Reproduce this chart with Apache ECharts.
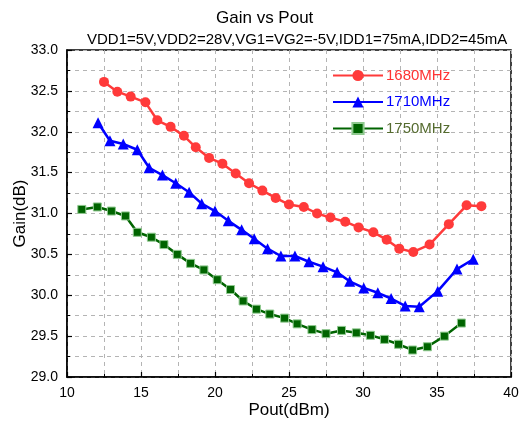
<!DOCTYPE html>
<html><head><meta charset="utf-8">
<script src="https://cdn.jsdelivr.net/npm/echarts@6/dist/echarts.min.js"></script>
<style>html,body{margin:0;padding:0;background:#fff}#c{width:521px;height:421px}</style>
</head><body><div id="c"></div>
<script>
const titleText = "Gain vs Pout";
const subText = "VDD1=5V,VDD2=28V,VG1=VG2=-5V,IDD1=75mA,IDD2=45mA";
const seriesNames = ["1680MHz", "1710MHz", "1750MHz"];
const x1680 = [12.5,13.4,14.3,15.3,16.1,17.0,17.9,18.7,19.6,20.5,21.4,22.3,23.2,24.1,25.0,26.0,26.9,27.8,28.8,29.7,30.7,31.6,32.45,33.4,34.5,35.8,37.0,38.0];
const y1680 = [32.61,32.49,32.43,32.36,32.14,32.06,31.95,31.81,31.68,31.61,31.49,31.37,31.28,31.19,31.11,31.08,31.00,30.95,30.90,30.83,30.77,30.68,30.57,30.53,30.62,30.87,31.10,31.09];
const x1710 = [12.1,12.9,13.8,14.75,15.55,16.45,17.35,18.25,19.1,20.0,20.9,21.8,22.65,23.55,24.45,25.4,26.35,27.3,28.25,29.1,30.05,31.0,31.9,32.85,33.8,35.05,36.35,37.45];
const y1710 = [32.11,31.89,31.85,31.78,31.56,31.47,31.37,31.26,31.12,31.03,30.91,30.80,30.69,30.57,30.48,30.48,30.41,30.35,30.28,30.17,30.09,30.03,29.96,29.87,29.86,30.05,30.32,30.44];
const x1750 = [11.0,12.05,13.0,13.95,14.75,15.7,16.55,17.45,18.35,19.25,20.15,21.05,21.9,22.8,23.7,24.7,25.55,26.55,27.5,28.55,29.55,30.5,31.45,32.4,33.35,34.35,35.5,36.65];
const y1750 = [31.05,31.08,31.03,30.97,30.77,30.71,30.62,30.50,30.39,30.31,30.19,30.07,29.93,29.83,29.77,29.72,29.65,29.58,29.53,29.57,29.54,29.51,29.46,29.40,29.33,29.37,29.50,29.66];

const pairs = (xs, ys) => xs.map((x, i) => [x, ys[i]]);
const chart = echarts.init(document.getElementById('c'), null, {renderer: 'canvas'});
const font = 'Liberation Sans, Arial, sans-serif';
const axisCommon = {
  axisLine: {show: true, lineStyle: {color: '#000', width: 1.5}},
  axisTick: {show: true, inside: true, length: 5, lineStyle: {color: '#000', width: 1.2}},
  minorTick: {show: true, splitNumber: 2, length: 3, lineStyle: {color: '#000', width: 1}},
  splitLine: {show: true, lineStyle: {color: '#b4b4b4', type: [4, 4], width: 1}},
  minorSplitLine: {show: true, lineStyle: {color: '#b4b4b4', type: [4, 4], width: 1}},
  axisLabel: {color: '#000', fontSize: 14, fontFamily: font},
  nameTextStyle: {color: '#000', fontSize: 17, fontFamily: font},
  nameMoveOverlap: false
};
chart.setOption({
  animation: false,
  backgroundColor: '#fff',
  title: [
    {text: titleText, left: 216, top: 10, padding: 0, textStyle: {fontSize: 17, fontWeight: 'normal', color: '#000', fontFamily: font}},
    {text: subText, left: 87, top: 32, padding: 0, textStyle: {fontSize: 15, fontWeight: 'normal', color: '#000', fontFamily: font}}
  ],
  grid: {left: 67, right: 10, top: 50, bottom: 44, outerBoundsMode: 'none', containLabel: false, show: true, borderColor: '#000', borderWidth: 1.5, backgroundColor: 'transparent'},
  legend: {
    orient: 'vertical', left: 332, top: 68, padding: 0, itemWidth: 50, itemHeight: 14, itemGap: 11.5,
    textStyle: {fontSize: 15, fontFamily: font, padding: [0, 0, 0, -2]},
    data: [
      {name: seriesNames[0], textStyle: {color: '#ff3333'}},
      {name: seriesNames[1], textStyle: {color: '#0000ff'}},
      {name: seriesNames[2], textStyle: {color: '#556b2f'}}
    ]
  },
  xAxis: Object.assign({}, axisCommon, {
    type: 'value', min: 10, max: 40, interval: 5,
    name: 'Pout(dBm)', nameLocation: 'middle', nameGap: 25,
    axisLabel: Object.assign({}, axisCommon.axisLabel, {margin: 9})
  }),
  yAxis: Object.assign({}, axisCommon, {
    type: 'value', min: 29, max: 33, interval: 0.5,
    name: 'Gain(dB)', nameLocation: 'middle', nameGap: 38,
    axisLabel: Object.assign({}, axisCommon.axisLabel, {margin: 9, formatter: v => v.toFixed(1)})
  }),
  series: [
    {name: seriesNames[0], type: 'line', data: pairs(x1680, y1680), symbol: 'circle', symbolSize: 10,
     itemStyle: {color: '#ff3a3a'}, lineStyle: {color: '#ff3a3a', width: 2.5}},
    {name: seriesNames[1], type: 'line', data: pairs(x1710, y1710), symbol: 'triangle', symbolSize: 11,
     itemStyle: {color: '#0000ff'}, lineStyle: {color: '#0000ff', width: 2.5}},
    {name: seriesNames[2], type: 'line', data: pairs(x1750, y1750), symbol: 'rect', symbolSize: 8,
     itemStyle: {color: '#006400', borderColor: '#8fc98f', borderWidth: 1}, lineStyle: {color: '#006400', width: 2.5}}
  ]
});
</script></body></html>
